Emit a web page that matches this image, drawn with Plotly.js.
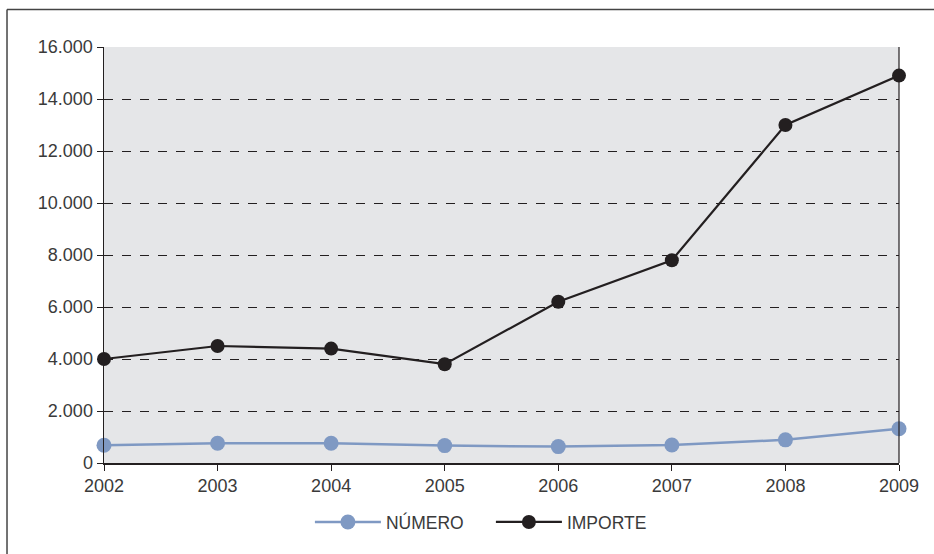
<!DOCTYPE html>
<html>
<head>
<meta charset="utf-8">
<script src="https://cdn.plot.ly/plotly-3.0.1.min.js"></script>
<style>html,body{margin:0;padding:0;background:#fff;}#chart{width:934px;height:554px;}</style>
</head>
<body>
<div id="chart"></div>
<script>
var years = [2002, 2003, 2004, 2005, 2006, 2007, 2008, 2009];
var numero = [680, 760, 760, 670, 630, 690, 890, 1320];
var importe = [4000, 4500, 4400, 3800, 6200, 7800, 13000, 14900];
var yTicks = [0, 2000, 4000, 6000, 8000, 10000, 12000, 14000, 16000];

var traces = [
  {x: years, y: numero, name: 'NÚMERO', type: 'scatter', mode: 'lines+markers',
   line: {color: '#7f99c3', width: 2.5}, marker: {color: '#7f99c3', size: 15}, cliponaxis: false},
  {x: years, y: importe, name: 'IMPORTE', type: 'scatter', mode: 'lines+markers',
   line: {color: '#231f20', width: 2.2}, marker: {color: '#231f20', size: 14}, cliponaxis: false}
];

var layout = {
  width: 934, height: 554,
  margin: {l: 104, r: 35, t: 47, b: 91},
  paper_bgcolor: '#ffffff',
  plot_bgcolor: '#e5e6e8',
  separators: ',.',
  font: {family: 'Liberation Sans, Arial, sans-serif', size: 17, color: '#3a3a3a'},
  showlegend: true,
  legend: {orientation: 'h', x: 0.259, xanchor: 'left', y: -0.142, yanchor: 'middle',
           font: {size: 17.5, color: '#3a3a3a'}, itemwidth: 66, entrywidth: 100,
           bgcolor: 'rgba(0,0,0,0)'},
  xaxis: {range: [2002, 2009], tickvals: years, ticktext: years.map(String),
          showgrid: false, zeroline: false, showline: true, linecolor: '#231f20', linewidth: 1.5,
          ticks: 'outside', ticklen: 6, tickcolor: '#231f20', tickfont: {size: 18, color: '#3a3a3a'}},
  yaxis: {range: [0, 16000], tickvals: yTicks, tickformat: ',d',
          showgrid: true, gridcolor: '#231f20', gridwidth: 1, griddash: 'dash',
          zeroline: false, showline: true, linecolor: '#231f20', linewidth: 1.5,
          ticks: 'outside', ticklen: 6, tickcolor: '#231f20', tickfont: {size: 18, color: '#3a3a3a'}},
  shapes: [
    {type: 'line', xref: 'paper', yref: 'paper', x0: 1, x1: 1, y0: 0, y1: 1,
     line: {color: '#231f20', width: 1.2}},
    {type: 'line', xref: 'paper', yref: 'paper', x0: -0.122, x1: 1.1, y0: 1.0901, y1: 1.0901,
     line: {color: '#444444', width: 1.5}},
    {type: 'line', xref: 'paper', yref: 'paper', x0: -0.122, x1: -0.122, y0: -0.3, y1: 1.0901,
     line: {color: '#444444', width: 1.5}}
  ]
};

Plotly.newPlot('chart', traces, layout, {displayModeBar: false, staticPlot: true});
</script>
</body>
</html>
